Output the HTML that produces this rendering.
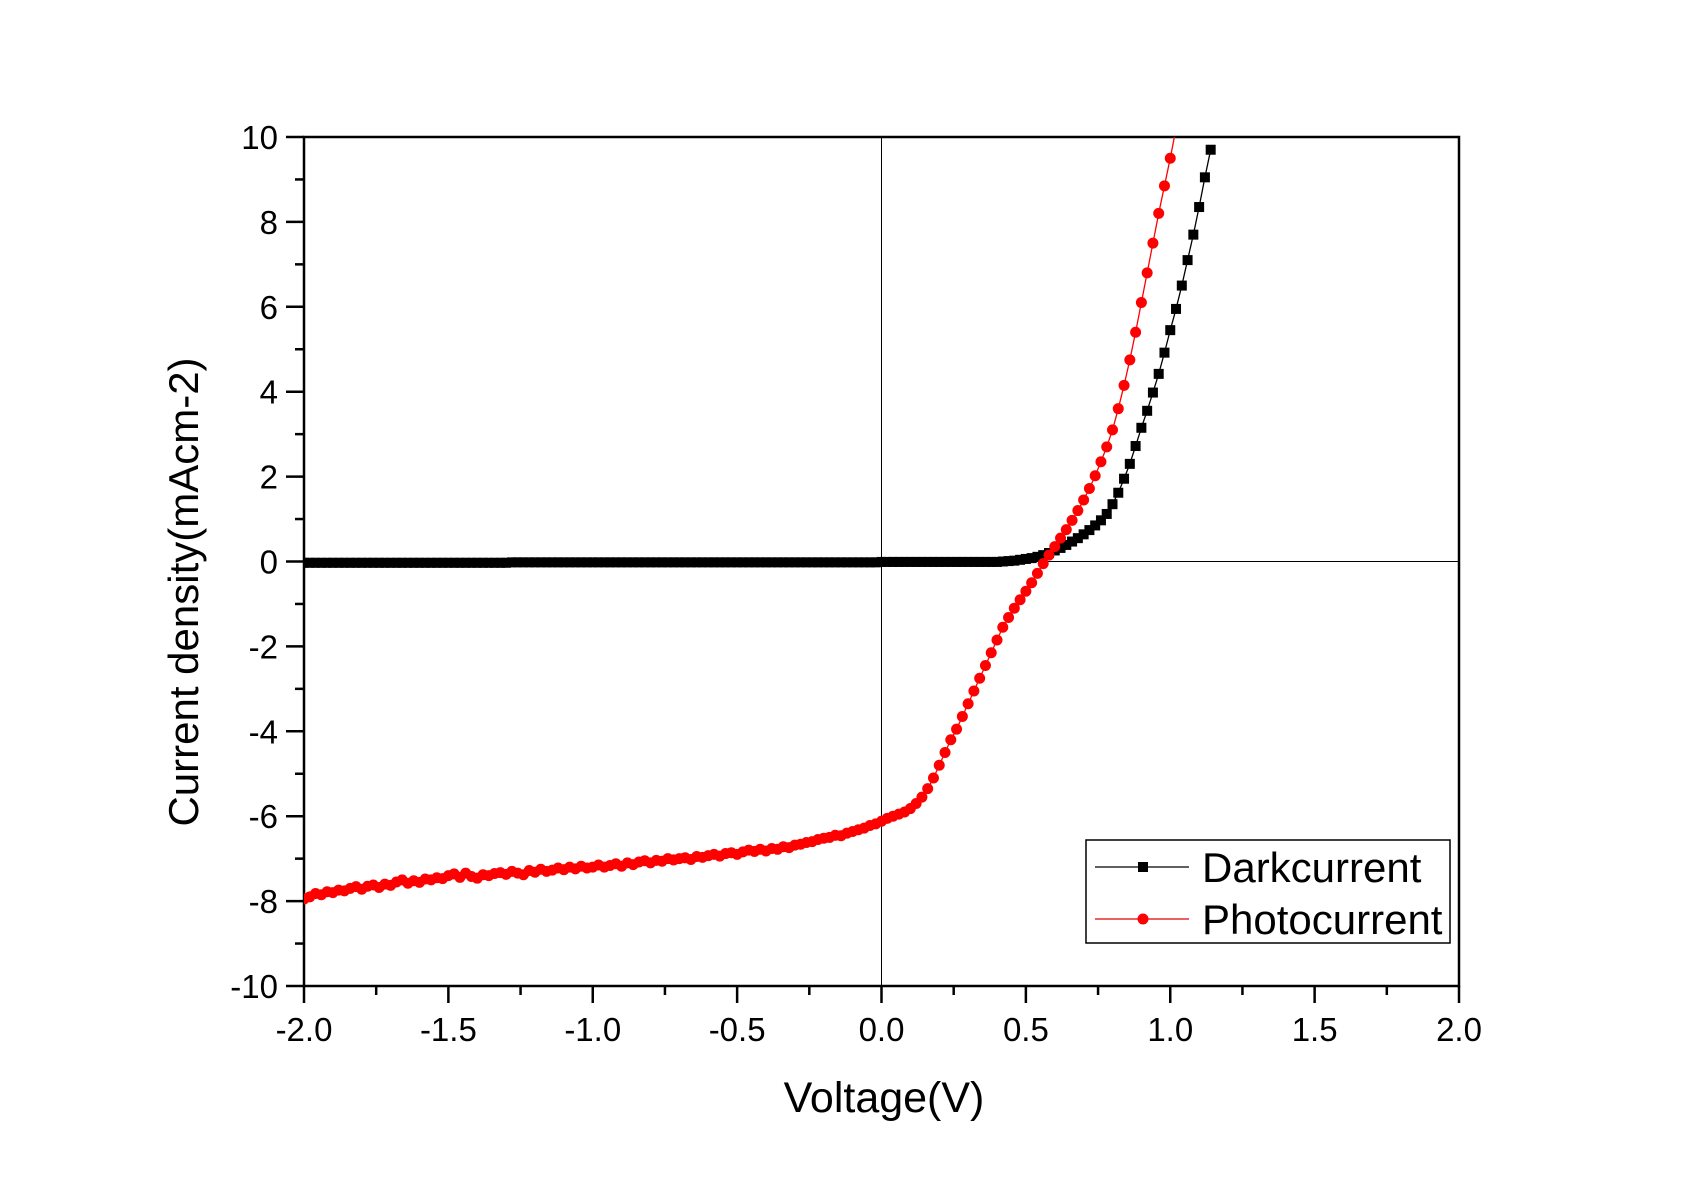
<!DOCTYPE html>
<html><head><meta charset="utf-8"><style>
html,body{margin:0;padding:0;background:#fff;}
svg{display:block;font-family:"Liberation Sans",Arial,sans-serif;}
</style></head><body>
<svg id="chart" width="1695" height="1182" viewBox="0 0 1695 1182" xmlns="http://www.w3.org/2000/svg">
<rect width="1695" height="1182" fill="#fff"/>
<g id="axes"></g>
<g id="series"></g>
<g id="legend">
  <rect x="1086" y="840" width="364" height="103" fill="#fff" stroke="#000" stroke-width="1.5"/>
  <g>
    <line x1="1095" y1="867" x2="1189" y2="867" stroke="#000" stroke-width="1.3"/>
    <rect x="1138" y="862" width="10" height="10" fill="#000"/>
    <text x="1202" y="882" font-size="42">Darkcurrent</text>
  </g>
  <g>
    <line x1="1095" y1="919" x2="1189" y2="919" stroke="#e00000" stroke-width="1.3"/>
    <circle cx="1143" cy="919" r="5.5" fill="#f00"/>
    <text x="1202" y="934" font-size="42">Photocurrent</text>
  </g>
</g>
<text x="884" y="1112" font-size="43" text-anchor="middle">Voltage(V)</text>
<text x="0" y="0" font-size="42" text-anchor="middle" transform="translate(198,592) rotate(-90)">Current density(mAcm-2)</text>
</svg>
<script>
const xTicks=[-2.0,-1.5,-1.0,-0.5,0.0,0.5,1.0,1.5,2.0];
const xTickLabels=["-2.0","-1.5","-1.0","-0.5","0.0","0.5","1.0","1.5","2.0"];
const yTicks=[-10,-8,-6,-4,-2,0,2,4,6,8,10];
const yTickLabels=["-10","-8","-6","-4","-2","0","2","4","6","8","10"];

const darkV=[-2.0,-1.98,-1.96,-1.94,-1.92,-1.9,-1.88,-1.86,-1.84,-1.82,-1.8,-1.78,-1.76,-1.74,-1.72,-1.7,-1.68,-1.66,-1.64,-1.62,-1.6,-1.58,-1.56,-1.54,-1.52,-1.5,-1.48,-1.46,-1.44,-1.42,-1.4,-1.38,-1.36,-1.34,-1.32,-1.3,-1.28,-1.26,-1.24,-1.22,-1.2,-1.18,-1.16,-1.14,-1.12,-1.1,-1.08,-1.06,-1.04,-1.02,-1.0,-0.98,-0.96,-0.94,-0.92,-0.9,-0.88,-0.86,-0.84,-0.82,-0.8,-0.78,-0.76,-0.74,-0.72,-0.7,-0.68,-0.66,-0.64,-0.62,-0.6,-0.58,-0.56,-0.54,-0.52,-0.5,-0.48,-0.46,-0.44,-0.42,-0.4,-0.38,-0.36,-0.34,-0.32,-0.3,-0.28,-0.26,-0.24,-0.22,-0.2,-0.18,-0.16,-0.14,-0.12,-0.1,-0.08,-0.06,-0.04,-0.02,0.0,0.02,0.04,0.06,0.08,0.1,0.12,0.14,0.16,0.18,0.2,0.22,0.24,0.26,0.28,0.3,0.32,0.34,0.36,0.38,0.4,
0.42,0.44,0.46,0.48,0.5,0.52,0.54,0.56,0.58,0.6,0.62,0.64,0.66,0.68,0.7,0.72,0.74,0.76,0.78,0.8,0.82,0.84,0.86,0.88,0.9,0.92,0.94,0.96,0.98,1.0,1.02,1.04,1.06,1.08,1.1,1.12,1.14];
const darkJ=[-0.03,-0.03,-0.03,-0.03,-0.03,-0.03,-0.03,-0.03,-0.03,-0.03,-0.03,-0.03,-0.03,-0.03,-0.03,-0.03,-0.03,-0.03,-0.03,-0.03,-0.03,-0.03,-0.03,-0.03,-0.03,-0.03,-0.03,-0.03,-0.03,-0.03,-0.03,-0.03,-0.03,-0.03,-0.03,-0.03,-0.02,-0.02,-0.02,-0.02,-0.02,-0.02,-0.02,-0.02,-0.02,-0.02,-0.02,-0.02,-0.02,-0.02,-0.02,-0.02,-0.02,-0.02,-0.02,-0.02,-0.02,-0.02,-0.02,-0.02,-0.02,-0.02,-0.02,-0.02,-0.02,-0.02,-0.02,-0.02,-0.02,-0.02,-0.02,-0.02,-0.02,-0.02,-0.02,-0.02,-0.02,-0.02,-0.02,-0.02,-0.02,-0.02,-0.02,-0.02,-0.02,-0.02,-0.02,-0.02,-0.02,-0.02,-0.02,-0.02,-0.02,-0.02,-0.02,-0.02,-0.02,-0.02,-0.02,-0.02,-0.01,-0.01,-0.01,-0.01,-0.01,-0.01,-0.01,-0.01,-0.01,-0.01,-0.01,-0.01,-0.01,-0.01,-0.01,-0.01,-0.01,-0.01,-0.01,-0.01,-0.01,
0.0,0.01,0.02,0.04,0.06,0.08,0.11,0.15,0.2,0.26,0.32,0.39,0.47,0.55,0.64,0.74,0.85,0.97,1.12,1.35,1.62,1.95,2.3,2.72,3.15,3.55,3.98,4.42,4.92,5.45,5.95,6.5,7.1,7.7,8.35,9.05,9.7];

const photoV=[-2.0,-1.98,-1.96,-1.94,-1.92,-1.9,-1.88,-1.86,-1.84,-1.82,-1.8,-1.78,-1.76,-1.74,-1.72,-1.7,-1.68,-1.66,-1.64,-1.62,-1.6,-1.58,-1.56,-1.54,-1.52,-1.5,-1.48,-1.46,-1.44,-1.42,-1.4,-1.38,-1.36,-1.34,-1.32,-1.3,-1.28,-1.26,-1.24,-1.22,-1.2,-1.18,-1.16,-1.14,-1.12,-1.1,-1.08,-1.06,-1.04,-1.02,-1.0,-0.98,-0.96,-0.94,-0.92,-0.9,-0.88,-0.86,-0.84,-0.82,-0.8,-0.78,-0.76,-0.74,-0.72,-0.7,-0.68,-0.66,-0.64,-0.62,-0.6,-0.58,-0.56,-0.54,-0.52,-0.5,-0.48,-0.46,-0.44,-0.42,-0.4,-0.38,-0.36,-0.34,-0.32,-0.3,-0.28,-0.26,-0.24,-0.22,-0.2,-0.18,-0.16,-0.14,-0.12,-0.1,-0.08,-0.06,-0.04,-0.02,
0.0,0.02,0.04,0.06,0.08,0.1,0.12,0.14,0.16,0.18,0.2,0.22,0.24,0.26,0.28,0.3,0.32,0.34,0.36,0.38,0.4,0.42,0.44,0.46,0.48,0.5,0.52,0.54,0.56,0.58,0.6,0.62,0.64,0.66,0.68,0.7,0.72,0.74,0.76,0.78,0.8,0.82,0.84,0.86,0.88,0.9,0.92,0.94,0.96,0.98,1.0,1.02];
const photoJ=[-7.95,-7.9,-7.82,-7.85,-7.78,-7.8,-7.74,-7.76,-7.7,-7.66,-7.72,-7.65,-7.62,-7.68,-7.6,-7.63,-7.55,-7.5,-7.58,-7.52,-7.56,-7.48,-7.5,-7.45,-7.47,-7.4,-7.36,-7.44,-7.34,-7.42,-7.46,-7.38,-7.4,-7.35,-7.33,-7.37,-7.3,-7.34,-7.38,-7.28,-7.32,-7.25,-7.3,-7.27,-7.22,-7.26,-7.2,-7.24,-7.18,-7.22,-7.2,-7.15,-7.2,-7.16,-7.12,-7.18,-7.1,-7.14,-7.08,-7.05,-7.1,-7.04,-7.06,-7.0,-7.03,-7.0,-6.98,-7.02,-6.95,-6.97,-6.93,-6.9,-6.94,-6.88,-6.86,-6.9,-6.84,-6.8,-6.83,-6.78,-6.82,-6.76,-6.78,-6.72,-6.74,-6.68,-6.66,-6.62,-6.6,-6.55,-6.52,-6.5,-6.45,-6.46,-6.4,-6.36,-6.32,-6.28,-6.22,-6.18,
-6.12,-6.05,-6.0,-5.95,-5.9,-5.82,-5.7,-5.55,-5.35,-5.1,-4.8,-4.5,-4.2,-3.95,-3.65,-3.35,-3.05,-2.75,-2.45,-2.15,-1.85,-1.55,-1.32,-1.1,-0.9,-0.7,-0.5,-0.28,-0.05,0.15,0.35,0.55,0.75,0.97,1.2,1.45,1.72,2.02,2.35,2.7,3.1,3.6,4.15,4.75,5.4,6.1,6.8,7.5,8.2,8.85,9.5,10.2];

const PL=304,PR=1459,PT=137,PB=986;
const xS=v=>PL+(v+2)/4*(PR-PL);
const yS=v=>PB-(v+10)/20*(PB-PT);
const NS="http://www.w3.org/2000/svg";
function mk(tag,attrs,parent){const e=document.createElementNS(NS,tag);for(const k in attrs)e.setAttribute(k,attrs[k]);parent.appendChild(e);return e;}
const axes=document.getElementById('axes');
const ser=document.getElementById('series');

let zl=mk('line',{x1:PL,x2:PR,y1:yS(0),y2:yS(0),stroke:'#000','stroke-width':1},axes);


let zv=mk('line',{x1:xS(0),x2:xS(0),y1:PT,y2:PB,stroke:'#000','stroke-width':1},axes);



let fr=mk('rect',{x:PL,y:PT,width:PR-PL,height:PB-PT,fill:'none',stroke:'#000','stroke-width':2.5},axes);



xTicks.forEach((v,i)=>{
  const x=xS(v);
  mk('line',{x1:x,x2:x,y1:PB,y2:PB+17,stroke:'#000','stroke-width':2.5},axes);
  const t=mk('text',{x:x,y:1041,'font-size':33,'text-anchor':'middle'},axes);
  t.textContent=xTickLabels[i];
  
  
  if(i<xTicks.length-1){const xm=xS(v+0.25);mk('line',{x1:xm,x2:xm,y1:PB,y2:PB+9,stroke:'#000','stroke-width':2.5},axes);}
});
yTicks.forEach((v,i)=>{
  const y=yS(v);
  mk('line',{x1:PL,x2:PL-18,y1:y,y2:y,stroke:'#000','stroke-width':2.5},axes);
  const t=mk('text',{x:278,y:y+12,'font-size':33,'text-anchor':'end'},axes);
  t.textContent=yTickLabels[i];
  
  
  if(i<yTicks.length-1){const ym=yS(v+1);mk('line',{x1:PL,x2:PL-9,y1:ym,y2:ym,stroke:'#000','stroke-width':2.5},axes);}
});

const defs=mk('defs',{},ser);
const cp=mk('clipPath',{id:'clip'},defs);
mk('rect',{x:PL,y:PT,width:PR-PL,height:PB-PT},cp);

function drawSeries(V,J,color,shape,name){
  const g=mk('g',{'clip-path':'url(#clip)'},ser);
  
  
  const pts=V.map((v,i)=>xS(v)+','+yS(J[i])).join(' ');
  mk('polyline',{points:pts,fill:'none',stroke:color,'stroke-width':1.3},g);
  V.forEach((v,i)=>{
    const x=xS(v),y=yS(J[i]);
    let m;
    if(shape==='sq') m=mk('rect',{x:x-5,y:y-5,width:10,height:10,fill:color},g);
    else m=mk('circle',{cx:x,cy:y,r:5.5,fill:color},g);
    
    
  });
}
drawSeries(darkV,darkJ,'#000','sq','darkcurrent-series');
drawSeries(photoV,photoJ,'#f00','ci','photocurrent-series');
</script>
</body></html>
